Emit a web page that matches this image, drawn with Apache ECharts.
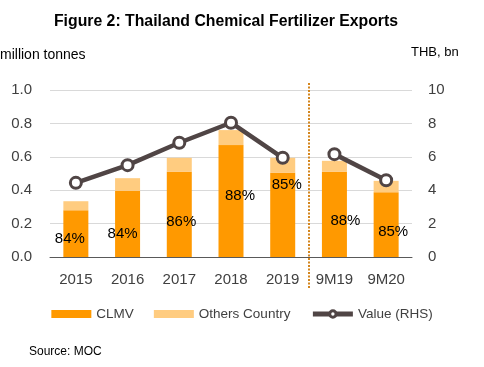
<!DOCTYPE html>
<html>
<head>
<meta charset="utf-8">
<script src="https://cdn.jsdelivr.net/npm/echarts@6/dist/echarts.min.js"></script>
<style>html,body{margin:0;padding:0;background:#fff}#c{width:484px;height:367px}</style>
</head>
<body>
<div id="c"></div>
<script>
const categories = ['2015','2016','2017','2018','2019','9M19','9M20'];
const clmv = [0.28, 0.396, 0.51, 0.67, 0.504, 0.51, 0.388];
const others = [0.054, 0.076, 0.084, 0.09, 0.09, 0.066, 0.068];
const valueRHS = [4.44, 5.5, 6.84, 8.04, 5.94, 6.16, 4.6];
const shareLabels = ['84%','84%','86%','88%','85%','88%','85%'];
const leftTicks = ['0.0','0.2','0.4','0.6','0.8','1.0'];
const rightTicks = ['0','2','4','6','8','10'];
const breakAfter = 4; // line is broken between 2019 and 9M19

const FONT = 'Liberation Sans';
const labelOffsets = [[-6,5],[-5,10],[2,7],[9,-5],[4,-30],[11,6],[7,7]];

const lineA = valueRHS.map((v,i)=> i<=breakAfter ? v : null);
const lineB = valueRHS.map((v,i)=> i>breakAfter ? v : null);

const chart = echarts.init(document.getElementById('c'), null, {renderer:'canvas'});
const lineStyle = {color:'#504545', width:4.5};
const lineCommon = {
  type:'line', name:'Value (RHS)', yAxisIndex:1, symbol:'circle', symbolSize:11,
  lineStyle: lineStyle, itemStyle:{color:'#fff', borderColor:'#504545', borderWidth:3},
  connectNulls:false, z:5, animation:false
};
const texts = [
  {type:'text', left:0, top:48, style:{text:'million tonnes', fontFamily:FONT, fontSize:14, fill:'#000'}},
  {type:'text', left:411, top:46, style:{text:'THB, bn', fontFamily:FONT, fontSize:13, fill:'#000'}},
  {type:'text', left:29, top:346, style:{text:'Source: MOC', fontFamily:FONT, fontSize:12, fill:'#000'}}
];
chart.setOption({
  animation:false,
  textStyle:{fontFamily:FONT},
  title:{text:'Figure 2: Thailand Chemical Fertilizer Exports', left:221, textAlign:'center', top:9,
    textStyle:{fontFamily:FONT, fontWeight:'bold', fontSize:15.8, color:'#000'}},
  grid:{left:50, right:72, top:90, bottom:110},
  legend:{
    bottom:41, left:'center', itemWidth:40, itemHeight:8, itemGap:20,
    textStyle:{fontFamily:FONT, fontSize:13.5, color:'#404040'},
    data:[{name:'CLMV', icon:'rect'},{name:'Others Country', icon:'rect'},
      {name:'Value (RHS)', itemStyle:{color:'#fff', borderColor:'#504545', borderWidth:3}, lineStyle:{width:5, color:'#504545'}}]
  },
  xAxis:{type:'category', data:categories,
    axisLine:{lineStyle:{color:'#595959', width:1}}, axisTick:{show:false},
    axisLabel:{color:'#404040', fontSize:15, margin:15, fontFamily:FONT}},
  yAxis:[
    {type:'value', min:0, max:1, interval:0.2,
     axisLabel:{color:'#404040', fontSize:15, margin:18, fontFamily:FONT, formatter:(v)=>leftTicks[Math.round(v/0.2)]},
     splitLine:{lineStyle:{color:'#D9D9D9'}}, axisLine:{show:false}, axisTick:{show:false}},
    {type:'value', min:0, max:10, interval:2,
     axisLabel:{color:'#404040', fontSize:15, margin:16, fontFamily:FONT, formatter:(v)=>rightTicks[Math.round(v/2)]},
     splitLine:{show:false}, axisLine:{show:false}, axisTick:{show:false}}
  ],
  series:[
    {type:'bar', name:'CLMV', stack:'t', barWidth:25, itemStyle:{color:'#FF9900'},
     data: clmv.map((v,i)=>({value:v, label:{show:true, position:'inside', offset:labelOffsets[i],
       formatter:shareLabels[i], color:'#000', fontSize:15, fontFamily:FONT}}))},
    {type:'bar', name:'Others Country', stack:'t', barWidth:25, itemStyle:{color:'#FFCC80'}, data:others},
    Object.assign({}, lineCommon, {data:lineA}),
    Object.assign({}, lineCommon, {data:lineB})
  ],
  graphic:texts
});
const x1 = chart.convertToPixel({xAxisIndex:0}, categories[breakAfter]);
const x2 = chart.convertToPixel({xAxisIndex:0}, categories[breakAfter+1]);
const xm = Math.round((x1+x2)/2);
chart.setOption({graphic: texts.concat([
  {type:'line', shape:{x1:xm, y1:83, x2:xm, y2:289},
   style:{stroke:'#D4861E', lineWidth:2, lineDash:[2,1.5], lineCap:'butt'}, z:10}
])});
</script>
</body>
</html>
